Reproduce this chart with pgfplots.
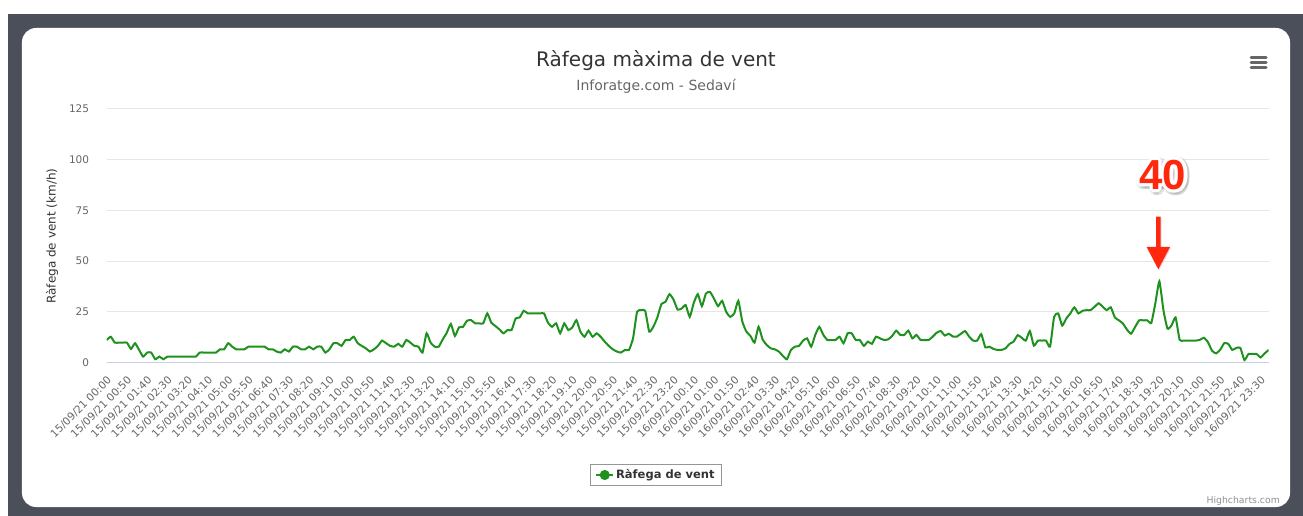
\documentclass[border=0pt]{standalone}
\usepackage{pgfplots}
\pgfplotsset{compat=1.18}
\usepackage{pgfplotstable}
\usepackage{fontspec}
\setmainfont{DejaVu Sans}
\newfontfamily\annotfont{Liberation Sans}
\definecolor{framedark}{RGB}{75,79,90}
\definecolor{gridgray}{RGB}{230,230,230}
\definecolor{axisblue}{RGB}{200,212,230}
\definecolor{tickgray}{RGB}{102,102,102}
\definecolor{titlegray}{RGB}{51,51,51}
\definecolor{windgreen}{RGB}{30,145,30}
\definecolor{annotred}{RGB}{255,40,15}
\definecolor{legendgray}{RGB}{150,150,150}
\definecolor{creditgray}{RGB}{144,144,144}

\pgfplotstableread[row sep=\\]{
x y\\
0 11.1\\ 1 12.7\\ 2 9.8\\ 3 9.8\\ 4 9.8\\ 5 9.8\\ 6 6.7\\ 7 9.5\\ 8 6.2\\ 9 2.9\\
10 4.9\\ 11 4.9\\ 12 1.6\\ 13 2.9\\ 14 1.6\\ 15 2.9\\ 16 2.9\\ 17 2.9\\ 18 2.9\\ 19 2.9\\
20 2.9\\ 21 2.9\\ 22 2.9\\ 23 4.9\\ 24 4.9\\ 25 4.9\\ 26 4.9\\ 27 4.9\\ 28 6.5\\ 29 6.5\\
30 9.5\\ 31 7.8\\ 32 6.5\\ 33 6.5\\ 34 6.5\\ 35 7.8\\ 36 7.8\\ 37 7.8\\ 38 7.8\\ 39 7.8\\
40 6.5\\ 41 6.5\\ 42 5.4\\ 43 4.9\\ 44 6.5\\ 45 5.4\\ 46 7.8\\ 47 7.8\\ 48 6.5\\ 49 6.5\\
50 7.8\\ 51 6.5\\ 52 7.8\\ 53 7.8\\ 54 4.9\\ 55 6.5\\ 56 9.5\\ 57 9.5\\ 58 8.2\\ 59 11.1\\
60 11.1\\ 61 12.7\\ 62 9.5\\ 63 8.2\\ 64 7.0\\ 65 5.4\\ 66 6.5\\ 67 8.2\\ 68 10.8\\ 69 9.5\\
70 8.2\\ 71 7.8\\ 72 9.2\\ 73 7.8\\ 74 11.1\\ 75 9.8\\ 76 8.2\\ 77 7.8\\ 78 4.9\\ 79 14.4\\
80 9.8\\ 81 7.8\\ 82 7.8\\ 83 11.4\\ 84 14.7\\ 85 19.0\\ 86 13.1\\ 87 17.3\\ 88 17.6\\ 89 20.6\\
90 20.9\\ 91 19.3\\ 92 19.3\\ 93 19.3\\ 94 24.2\\ 95 19.6\\ 96 18.0\\ 97 16.3\\ 98 14.4\\ 99 16.0\\
100 16.0\\ 101 21.7\\ 102 22.2\\ 103 25.5\\ 104 24.2\\ 105 24.2\\ 106 24.2\\ 107 24.2\\ 108 24.2\\ 109 19.6\\
110 17.6\\ 111 19.3\\ 112 14.4\\ 113 19.3\\ 114 16.0\\ 115 17.3\\ 116 20.9\\ 117 15.2\\ 118 12.7\\ 119 15.7\\
120 12.7\\ 121 14.4\\ 122 12.7\\ 123 10.3\\ 124 8.2\\ 125 6.5\\ 126 5.4\\ 127 4.9\\ 128 6.2\\ 129 6.2\\
130 11.9\\ 131 25.0\\ 132 25.8\\ 133 25.5\\ 134 15.2\\ 135 17.6\\ 136 22.2\\ 137 28.8\\ 138 29.9\\ 139 33.7\\
140 31.0\\ 141 26.1\\ 142 26.6\\ 143 28.3\\ 144 22.5\\ 145 29.4\\ 146 33.7\\ 147 27.8\\ 148 34.0\\ 149 34.8\\
150 31.5\\ 151 27.8\\ 152 30.4\\ 153 25.0\\ 154 22.5\\ 155 24.2\\ 156 30.4\\ 157 20.1\\ 158 15.2\\ 159 13.1\\
160 9.8\\ 161 17.6\\ 162 11.4\\ 163 8.7\\ 164 7.0\\ 165 6.5\\ 166 5.4\\ 167 3.3\\ 168 1.6\\ 169 6.2\\
170 7.8\\ 171 8.2\\ 172 10.8\\ 173 11.9\\ 174 7.8\\ 175 13.6\\ 176 17.6\\ 177 13.6\\ 178 11.1\\ 179 11.1\\
180 11.1\\ 181 12.7\\ 182 9.5\\ 183 14.4\\ 184 14.4\\ 185 11.1\\ 186 11.1\\ 187 8.2\\ 188 10.3\\ 189 9.2\\
190 12.7\\ 191 11.9\\ 192 11.1\\ 193 11.4\\ 194 13.1\\ 195 15.7\\ 196 13.6\\ 197 13.6\\ 198 15.7\\ 199 11.9\\
200 13.6\\ 201 11.1\\ 202 11.1\\ 203 11.1\\ 204 12.7\\ 205 14.7\\ 206 15.5\\ 207 13.3\\ 208 14.2\\ 209 12.8\\
210 12.8\\ 211 14.2\\ 212 15.5\\ 213 12.8\\ 214 10.8\\ 215 10.8\\ 216 14.0\\ 217 7.5\\ 218 7.8\\ 219 6.7\\
220 6.2\\ 221 6.2\\ 222 7.0\\ 223 9.2\\ 224 10.3\\ 225 13.5\\ 226 12.2\\ 227 10.8\\ 228 15.5\\ 229 8.3\\
230 10.8\\ 231 10.8\\ 232 10.8\\ 233 7.8\\ 234 22.5\\ 235 24.2\\ 236 18.2\\ 237 21.7\\ 238 24.2\\ 239 27.2\\
240 24.2\\ 241 25.5\\ 242 25.8\\ 243 25.8\\ 244 27.5\\ 245 29.2\\ 246 27.5\\ 247 25.8\\ 248 27.2\\ 249 22.2\\
250 20.8\\ 251 19.2\\ 252 16.2\\ 253 14.2\\ 254 17.5\\ 255 20.8\\ 256 20.8\\ 257 20.8\\ 258 19.5\\ 259 29.2\\
260 40.0\\ 261 25.8\\ 262 16.7\\ 263 18.3\\ 264 22.2\\ 265 11.2\\ 266 10.8\\ 267 10.8\\ 268 10.8\\ 269 10.8\\
270 11.2\\ 271 12.2\\ 272 10.0\\ 273 5.8\\ 274 4.5\\ 275 6.2\\ 276 9.5\\ 277 9.2\\ 278 6.2\\ 279 7.2\\
280 7.2\\ 281 1.2\\ 282 4.2\\ 283 4.2\\ 284 4.2\\ 285 2.5\\ 286 4.5\\ 287 6.2\\
}\winddata

\begin{document}
\begin{tikzpicture}
\begin{scope}[x=1pt,y=1pt,shift={(-106.7pt,-153.5pt)}]
\fill[white] (0,0) rectangle (1303,516);
\fill[framedark] (8,0) rectangle (1303,502);
\fill[white, rounded corners=14pt] (22,9) rectangle (1290,488);

\node[anchor=base, inner sep=0pt, font=\fontsize{20}{24}\selectfont, text=titlegray] at (656,449) {Ràfega màxima de vent};
\node[anchor=base, inner sep=0pt, font=\fontsize{14}{17}\selectfont, text=tickgray] at (656,425) {Inforatge.com - Sedaví};

\draw[tickgray, line width=3pt, line cap=round] (1251,458.5) -- (1266,458.5);
\draw[tickgray, line width=3pt, line cap=round] (1251,453.5) -- (1266,453.5);
\draw[tickgray, line width=3pt, line cap=round] (1251,448.5) -- (1266,448.5);

\node[anchor=base east, inner sep=0pt, font=\fontsize{9.3}{11}\selectfont, text=creditgray] at (1280,13) {Highcharts.com};
\node[rotate=90, inner sep=0pt, font=\fontsize{12}{14}\selectfont, text=titlegray] at (52,280) {Ràfega de vent (km/h)};
\end{scope}

\begin{axis}[
  at={(0pt,0pt)}, anchor=south west,
  scale only axis, width=1162pt, height=253.5pt,
  xmin=0, xmax=287, ymin=0, ymax=125,
  axis line style={draw=none},
  tick style={draw=none},
  major tick length=0pt,
  ytick={0,25,50,75,100,125},
  ymajorgrids, grid style={draw=gridgray, line width=1pt},
  extra y ticks={0}, extra y tick labels={},
  extra y tick style={grid style={draw=axisblue, line width=1pt}},
  xtick={0,5,...,285},
  xticklabels={15/09/21 00:00,15/09/21 00:50,15/09/21 01:40,15/09/21 02:30,15/09/21 03:20,15/09/21 04:10,15/09/21 05:00,15/09/21 05:50,15/09/21 06:40,15/09/21 07:30,15/09/21 08:20,15/09/21 09:10,15/09/21 10:00,15/09/21 10:50,15/09/21 11:40,15/09/21 12:30,15/09/21 13:20,15/09/21 14:10,15/09/21 15:00,15/09/21 15:50,15/09/21 16:40,15/09/21 17:30,15/09/21 18:20,15/09/21 19:10,15/09/21 20:00,15/09/21 20:50,15/09/21 21:40,15/09/21 22:30,15/09/21 23:20,16/09/21 00:10,16/09/21 01:00,16/09/21 01:50,16/09/21 02:40,16/09/21 03:30,16/09/21 04:20,16/09/21 05:10,16/09/21 06:00,16/09/21 06:50,16/09/21 07:40,16/09/21 08:30,16/09/21 09:20,16/09/21 10:10,16/09/21 11:00,16/09/21 11:50,16/09/21 12:40,16/09/21 13:30,16/09/21 14:20,16/09/21 15:10,16/09/21 16:00,16/09/21 16:50,16/09/21 17:40,16/09/21 18:30,16/09/21 19:20,16/09/21 20:10,16/09/21 21:00,16/09/21 21:50,16/09/21 22:40,16/09/21 23:30},
  xticklabel style={anchor=east, inner sep=0pt, xshift=3pt, yshift=-16pt, rotate=45, font=\fontsize{10.5}{12}\selectfont, text=tickgray},
  yticklabel style={anchor=east, inner sep=0pt, xshift=-17.4pt, font=\fontsize{10.5}{12}\selectfont, text=tickgray},
  /pgf/number format/assume math mode=true,
  legend style={at={(0.4727,-0.4438)}, anchor=center, draw=legendgray, line width=0.8pt, fill=white, inner xsep=5pt, inner ysep=3pt, font=\bfseries\fontsize{11.5}{14}\selectfont, text=titlegray},
  legend image code/.code={\draw[#1, line width=2pt] (0pt,0pt) -- (16.7pt,0pt); \fill[#1] (8.35pt,0pt) circle (4pt);},
]
\addplot[windgreen, line width=2pt, smooth, tension=0.3] table[x=x, y=y] {\winddata};
\addlegendentry{Ràfega de vent}
\end{axis}

\begin{scope}[x=1pt,y=1pt,shift={(-106.7pt,-153.5pt)}]
\foreach \a in {0,22.5,...,337.5} {
  \node[inner sep=0pt, text=black, opacity=0.06, font=\annotfont\bfseries\fontsize{42}{48}\selectfont] at ([shift={(\a:4.5pt)}]1164.3,339.5) {40};
}
\foreach \a in {0,22.5,...,337.5} {
  \node[inner sep=0pt, text=white, font=\annotfont\bfseries\fontsize{42}{48}\selectfont] at ([shift={(\a:3.2pt)}]1162.8,341) {40};
}
\node[inner sep=0pt, text=annotred, font=\annotfont\bfseries\fontsize{42}{48}\selectfont] at (1162.8,341) {40};
\fill[black, opacity=0.12] (1157,298.3) -- (1161.6,298.3) -- (1161.6,268) -- (1171,268) -- (1159.3,245.7) -- (1147.6,268) -- (1157,268) -- cycle;
\fill[annotred] (1156,299.3) -- (1160.6,299.3) -- (1160.6,269) -- (1170,269) -- (1158.3,246.7) -- (1146.6,269) -- (1156,269) -- cycle;
\path[use as bounding box] (0,0) rectangle (1303,516);
\end{scope}
\end{tikzpicture}
\end{document}
